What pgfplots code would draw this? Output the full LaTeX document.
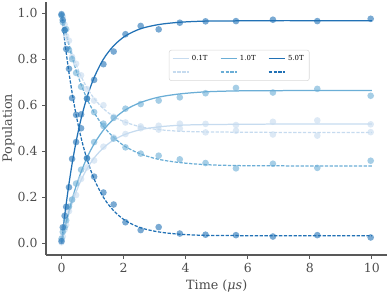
\documentclass[border=0pt]{standalone}
\usepackage{fontspec}
\setmainfont{DejaVu Serif}
\usepackage{pgfplots}
\usepackage{pgfplotstable}
\pgfplotsset{compat=1.18}
\definecolor{cA}{HTML}{C6DBEF}
\definecolor{cB}{HTML}{6BAED6}
\definecolor{cC}{HTML}{2171B5}
\pgfplotstableread{
t f01 g01 f1 g1 f5 g5
0 0 1 0 1 0 1
0.04 0.024 0.976 0.026 0.974 0.049 0.951
0.1 0.059 0.941 0.063 0.937 0.118 0.882
0.15 0.085 0.915 0.092 0.908 0.171 0.829
0.24 0.130 0.870 0.141 0.859 0.259 0.741
0.34 0.174 0.826 0.191 0.809 0.345 0.655
0.47 0.223 0.777 0.249 0.751 0.442 0.558
0.63 0.275 0.725 0.310 0.690 0.541 0.459
0.82 0.324 0.676 0.372 0.628 0.634 0.366
1.05 0.371 0.629 0.432 0.568 0.720 0.280
1.35 0.415 0.585 0.492 0.508 0.800 0.200
1.68 0.449 0.551 0.540 0.460 0.858 0.142
2.06 0.474 0.526 0.580 0.420 0.901 0.099
2.55 0.494 0.506 0.612 0.388 0.932 0.068
3.13 0.506 0.494 0.635 0.365 0.950 0.050
3.81 0.513 0.487 0.649 0.351 0.960 0.040
4.64 0.516 0.484 0.658 0.342 0.965 0.035
5.62 0.517 0.483 0.662 0.338 0.966 0.034
6.81 0.518 0.482 0.663 0.337 0.967 0.033
8.24 0.518 0.482 0.664 0.336 0.967 0.033
10 0.518 0.482 0.664 0.336 0.967 0.033
}\fit
\pgfplotstableread{
t s01 d01 s1 d1 s5 d5
0 0.005 0.99 0.02 0.99 0.01 0.995
0.04 0.03 0.985 0.05 0.96 0.07 0.97
0.1 0.06 0.95 0.07 0.925 0.12 0.926
0.15 0.08 0.90 0.10 0.93 0.159 0.844
0.24 0.14 0.88 0.16 0.84 0.244 0.758
0.34 0.19 0.81 0.19 0.80 0.367 0.631
0.47 0.21 0.78 0.26 0.74 0.44 0.558
0.63 0.28 0.73 0.32 0.68 0.56 0.50
0.82 0.33 0.67 0.37 0.63 0.628 0.37
1.05 0.36 0.62 0.44 0.57 0.71 0.29
1.35 0.42 0.60 0.51 0.52 0.778 0.221
1.68 0.46 0.55 0.545 0.455 0.833 0.169
2.06 0.475 0.525 0.585 0.417 0.908 0.092
2.55 0.508 0.50 0.605 0.39 0.944 0.058
3.13 0.511 0.494 0.62 0.381 0.929 0.071
3.81 0.52 0.499 0.634 0.365 0.958 0.043
4.64 0.519 0.482 0.652 0.349 0.964 0.038
5.62 0.514 0.489 0.675 0.326 0.965 0.036
6.81 0.528 0.473 0.655 0.346 0.971 0.030
8.24 0.534 0.468 0.671 0.328 0.965 0.036
9.96 0.517 0.483 0.641 0.359 0.975 0.026
}\pts
\pgfplotsset{
  dots/.style={only marks, mark=*, mark size=2.4pt, color=#1, forget plot,
    mark options={draw opacity=0, fill=#1, fill opacity=0.6}},
}
\begin{document}
\begin{tikzpicture}
\useasboundingbox (-33.2pt,-28.9pt) rectangle (246.8pt,184.0pt);
\begin{axis}[
  at={(0,0)}, anchor=south west,
  scale only axis, width=246.4pt, height=182.9pt,
  xmin=-0.5, xmax=10.5, ymin=-0.05, ymax=1.05,
  axis x line*=bottom, axis y line*=left,
  axis line style={black!65, line width=0.8pt},
  tick align=outside, major tick length=2.6pt,
  tick style={black!65, line width=0.7pt},
  xtick={0,2,4,6,8,10}, ytick={0,0.2,0.4,0.6,0.8,1.0},
  yticklabel style={/pgf/number format/.cd, fixed, fixed zerofill, precision=1},
  ticklabel style={font=\fontsize{9}{10}\selectfont, text=black!70},
  /pgf/number format/assume math mode=true,
  xlabel={Time (\textit{μs})}, ylabel={Population},
  every axis x label/.style={at={(axis description cs:0.5,-0.1225)}, anchor=center},
  every axis y label/.style={at={(axis description cs:-0.11,0.5)}, rotate=90, anchor=center},
  label style={font=\fontsize{9.2}{11}\selectfont, text=black!70},
  legend style={at={(0.36,0.809)}, anchor=north west, draw=black!15, fill=white,
    rounded corners=1.5pt, font=\fontsize{5}{6}\selectfont,
    inner xsep=2pt, inner ysep=1.5pt, row sep=0.5pt,
    /tikz/every even column/.append style={column sep=7pt}},
  legend columns=3, legend cell align=left,
  legend image code/.code={\draw[#1] (0pt,0pt) -- (11.5pt,0pt);},
  every axis plot/.append style={line width=0.9pt},
]
\addplot[cA, smooth, no marks] table[x=t,y=f01] \fit; \addlegendentry{0.1T}
\addplot[cB, smooth, no marks] table[x=t,y=f1] \fit; \addlegendentry{1.0T}
\addplot[cC, smooth, no marks] table[x=t,y=f5] \fit; \addlegendentry{5.0T}
\addplot[cA, smooth, no marks, dash pattern=on 2.4pt off 1.1pt] table[x=t,y=g01] \fit; \addlegendentry{\phantom{0.1T}}
\addplot[cB, smooth, no marks, dash pattern=on 2.4pt off 1.1pt] table[x=t,y=g1] \fit; \addlegendentry{\phantom{1.0T}}
\addplot[cC, smooth, no marks, dash pattern=on 2.4pt off 1.1pt] table[x=t,y=g5] \fit; \addlegendentry{\phantom{5.0T}}
\addplot[dots=cA] table[x=t,y=s01] \pts;
\addplot[dots=cA] table[x=t,y=d01] \pts;
\addplot[dots=cB] table[x=t,y=s1] \pts;
\addplot[dots=cB] table[x=t,y=d1] \pts;
\addplot[dots=cC] table[x=t,y=s5] \pts;
\addplot[dots=cC] table[x=t,y=d5] \pts;
\end{axis}
\end{tikzpicture}
\end{document}
